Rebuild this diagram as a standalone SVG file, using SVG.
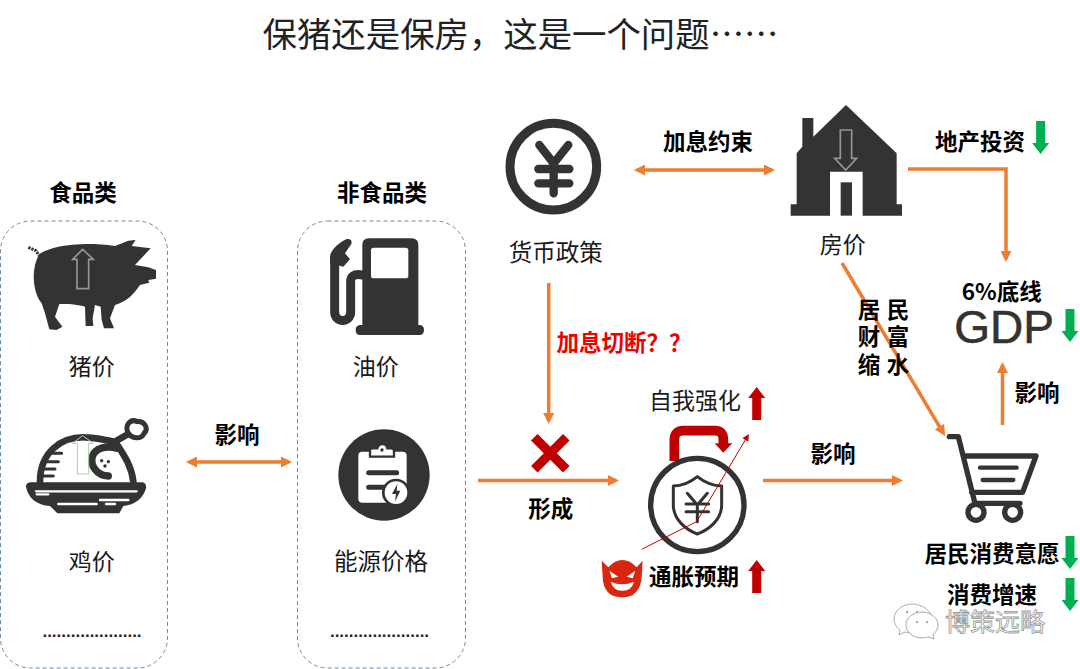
<svg xmlns="http://www.w3.org/2000/svg" width="1080" height="669" viewBox="0 0 1080 669">
<style>
text{font-family:"Noto Sans CJK SC","Liberation Sans",sans-serif;font-size:23px;fill:#1a1a1a;text-anchor:middle}
.b{font-weight:700;font-size:22.500px;fill:#000}
.r{font-weight:700;font-size:22.500px;fill:#f00000}
.title{font-size:34.400px;fill:#222}
.dots{font-family:"Liberation Sans",sans-serif;font-size:17px;font-weight:700;fill:#222}
.gdp{font-family:"Liberation Sans",sans-serif;font-size:46px;fill:#333;stroke:#333;stroke-width:.6}
.wm{font-size:25px;fill:#fff;stroke:#999;stroke-width:.8}
.box{fill:none;stroke:#6f8aa5;stroke-width:1;stroke-dasharray:4 3}
.d{fill:#333}
.s{fill:none;stroke:#333;stroke-linecap:round;stroke-linejoin:round}
.w{fill:none;stroke:#fff;stroke-linecap:round}
.c{fill:none;stroke:#ed7d31;stroke-width:3.500}
.green{fill:#00b050}
.red{fill:#c00000}
.hollow{fill:none;stroke:#8d9c8d;stroke-width:5}
</style>
<defs>
<marker id="ah" viewBox="0 0 11 11" refX="8" refY="5.500" markerWidth="11" markerHeight="11" markerUnits="userSpaceOnUse" orient="auto-start-reverse"><path d="M0,0L11,5.500L0,11z" fill="#ed7d31"/></marker>
<marker id="rh" viewBox="0 0 6 6" refX="5" refY="3" markerWidth="21" markerHeight="21" markerUnits="userSpaceOnUse" orient="auto"><path d="M0,0L6,3L0,6z" fill="#c00000"/></marker>
<path id="up" d="M0,0L8.500,11L4.500,11L4.500,33L-4.500,33L-4.500,11L-8.500,11Z"/>
<path id="down" d="M-4.500,0L4.500,0L4.500,22L8.500,22L0,33L-8.500,22L-4.500,22Z"/>
</defs>
<rect width="1080" height="669" fill="#fff"/>
<text class="title" x="520.500" y="47">保猪还是保房，这是一个问题……</text>

<g id="food-box">
<rect class="box" x="0.500" y="221" width="167" height="447" rx="30"/>
<text class="b" x="83" y="201">食品类</text>
</g>
<g id="pig" transform="translate(0,170) scale(.3333)">
<path class="d" d="M118,252C160,225 250,215 345,228L385,212L407,210L395,228L452,235L405,285L445,292L468,300L468,326L445,330L448,338L420,345C400,375 380,395 345,405L330,445L342,475L312,475L305,450L302,410L285,405L278,445L280,468L257,468L255,410C230,402 200,402 178,402L165,440L187,470L170,480L148,478L135,430L125,400C100,370 90,300 118,252Z"/>
<path d="M85,232L108,242L118,258" fill="none" stroke="#333" stroke-width="9" stroke-dasharray="7 3"/>
<path class="hollow" d="M248,238L280,268L266,268L266,356L231,356L231,268L218,268Z"/>
</g>
<text id="pig-label" x="91.700" y="375">猪价</text>
<g id="chicken" transform="translate(0,170) scale(.3333)">
<path class="s" style="stroke-width:20" d="M120,935C120,850 180,800 255,802C290,802 320,812 345,815L388,790M400,935C395,890 375,860 352,825"/>
<path d="M385,790C372,765 392,745 412,755C432,752 448,775 432,790C425,808 398,808 385,790Z" fill="#fff" stroke="#333" stroke-width="15"/>
<path class="s" style="stroke-width:22" d="M325,918C290,918 270,885 277,860C285,835 320,825 350,835"/>
<path class="s" style="stroke-width:9" d="M150,850H185M140,875H175M135,897H165M130,918H160"/>
<circle class="d" cx="305" cy="872" r="5"/><circle class="d" cx="325" cy="875" r="5"/><circle class="d" cx="315" cy="888" r="5"/>
<path class="d" d="M78,950C78,940 85,937 95,937L425,937C435,937 440,945 438,955C430,985 405,1005 370,1008L358,1030L172,1030L150,1008C110,1005 85,985 78,950Z"/>
<path class="w" style="stroke-width:7" d="M108,964H410M110,973H145M300,990H385M175,1002H290M318,1002H345"/>
<path fill="none" stroke="#a9cfa9" stroke-width="3" d="M248,797L280,820L266,820L266,912L232,912L232,820L218,820Z"/>
</g>
<text id="chicken-label" x="91.700" y="570">鸡价</text>
<text class="dots" x="92" y="637">.....................</text>

<g id="nonfood-box">
<rect class="box" x="297.500" y="221" width="168" height="447" rx="30"/>
<text class="b" x="382" y="201">非食品类</text>
</g>
<g id="fuel" transform="translate(290,170) scale(.3333)">
<path class="d" d="M217,225Q217,205 237,205H365Q385,205 385,225V465H390Q402,467 402,480Q402,495 388,495H210Q197,495 197,480Q197,467 210,465H217Z"/>
<rect x="243" y="233" width="112" height="92" rx="8" fill="#fff"/>
<path class="s" style="stroke-width:27" d="M217,315C190,310 182,320 182,335V425C182,460 134,460 134,425V275"/>
<path class="d" d="M120,280V262C120,240 150,215 170,207Q188,205 184,222L165,250L180,268L160,290Z"/>
</g>
<text id="fuel-label" x="375.700" y="375">油价</text>
<g id="energy" transform="translate(290,170) scale(.3333)">
<circle class="d" cx="282" cy="915" r="137"/>
<rect x="205" y="845" width="145" height="153" rx="12" fill="#fff"/>
<path d="M240,860V838Q240,835 250,835H262Q265,822 277,822Q290,822 292,835H303Q312,835 312,842V860Z" fill="#fff" stroke="#333" stroke-width="7"/>
<circle class="d" cx="276" cy="840" r="5"/>
<path class="s" style="stroke-width:15" d="M236,908H320M236,952H290"/>
<circle cx="318" cy="968" r="38" fill="#fff" stroke="#333" stroke-width="8"/>
<path class="d" d="M322,942L306,972L318,972L315,995L331,962L320,962Z"/>
</g>
<text id="energy-label" x="381" y="570" style="font-size:23.500px">能源价格</text>
<text class="dots" x="379.500" y="637">.....................</text>

<g id="connectors">
<path class="c" marker-start="url(#ah)" marker-end="url(#ah)" d="M189,462H289"/>
<path class="c" marker-start="url(#ah)" marker-end="url(#ah)" d="M637,170H772"/>
<path class="c" marker-end="url(#ah)" d="M548.700,283V421"/>
<path class="c" marker-end="url(#ah)" d="M478,480.500H616"/>
<path class="c" marker-end="url(#ah)" d="M763,480.500H900"/>
<path class="c" marker-end="url(#ah)" d="M842,263L943.500,433.400"/>
<path class="c" marker-end="url(#ah)" d="M908,169H1006V259"/>
<path class="c" marker-end="url(#ah)" d="M1002.500,425V365"/>
</g>
<text id="influence-1" class="b" x="237" y="443">影响</text>
<text id="hike-limit" class="b" x="708" y="150">加息约束</text>
<text id="hike-cut" class="r" x="624" y="351">加息切断？？</text>
<text id="form" class="b" x="550.700" y="517">形成</text>
<text id="influence-2" class="b" x="833" y="462">影响</text>
<text id="influence-3" class="b" x="1037" y="401">影响</text>

<g id="cross" transform="translate(290,170) scale(.3333)">
<path fill="none" stroke="#c00000" stroke-width="28" d="M733,802L829,898M829,802L733,898"/>
</g>

<g id="monetary" transform="translate(480,90) scale(.3333)">
<circle class="s" style="stroke-width:27" cx="220" cy="230" r="130"/>
<path class="s" style="stroke-width:25" d="M178,165L221,220L265,165M175,237H268M175,280H268M221,220V310"/>
</g>
<text id="monetary-label" x="555.700" y="261" style="font-size:23.500px">货币政策</text>

<g id="house" transform="translate(780,90) scale(.3333)">
<path class="d" d="M198,45L350,190V343H366V377H248V245H150V377H32V343H50V190L67,170V84H100V140Z"/>
<rect class="d" x="182" y="277" width="34" height="100"/>
<path class="hollow" d="M181,120H215V205H230L197,240L164,205H181Z"/>
</g>
<text id="house-label" x="842.700" y="253">房价</text>
<g id="invest">
<text class="b" x="980" y="150">地产投资</text>
<use href="#down" class="green" x="1040.600" y="121"/>
</g>
<g id="gdp">
<text class="b" x="1001.700" y="300">6%底线</text>
<text class="gdp" x="1004" y="343">GDP</text>
<use href="#down" class="green" x="1070" y="309"/>
</g>
<g id="wealth-shrink">
<text class="b" x="869" y="318">居</text><text class="b" x="898" y="318">民</text>
<text class="b" x="869" y="345">财</text><text class="b" x="898" y="345">富</text>
<text class="b" x="869" y="373">缩</text><text class="b" x="898" y="373">水</text>
</g>

<g id="self-reinforce">
<text x="695" y="409">自我强化</text>
<use href="#up" class="red" x="756.700" y="387"/>
</g>
<g id="lock" transform="translate(590,380) scale(.3333)">
<path fill="none" stroke="#c00000" stroke-width="29" d="M253,243V180Q253,152 280,152H375Q400,152 400,178V192"/>
<path class="red" d="M374,190H427L400,218Z"/>
<circle class="s" style="stroke-width:16" cx="322" cy="375" r="140"/>
<path class="s" style="stroke-width:9" d="M322,290C295,312 270,318 250,318V375C250,420 290,450 322,462C355,450 395,420 395,375V318C375,318 350,312 322,290Z"/>
<path class="s" style="stroke-width:9" d="M292,340L322,375L352,340M288,372H356M288,395H356M322,375V425"/>
<path fill="none" stroke="#c00000" stroke-width="3" marker-end="url(#rh)" d="M155,508L320,425L475,165"/>
</g>
<g id="inflation">
<g transform="translate(590,380) scale(.3333)">
<path d="M35,542L55,562Q75,540 97,540Q120,540 140,562L158,542L155,590Q150,652 97,652Q40,652 38,590Z" fill="#d9260f"/>
<path d="M58,572L85,590L66,595ZM136,572L110,590L128,595Z" fill="#fff"/>
<path d="M62,605Q97,620 132,605Q125,632 97,632Q70,632 62,605Z" fill="#fff"/>
</g>
<text class="b" x="694" y="585">通胀预期</text>
<use href="#up" class="red" x="756.700" y="560"/>
</g>

<g id="cart" transform="translate(830,370) scale(.3333)">
<path class="s" style="stroke-width:16" d="M358,200H385L435,400H570M402,258H618L578,367H425"/>
<path class="s" style="stroke-width:13" d="M450,293H560M458,330H550"/>
<circle class="s" style="stroke-width:16" cx="438" cy="427" r="24"/>
<circle class="s" style="stroke-width:16" cx="548" cy="427" r="24"/>
</g>
<g id="consumption">
<text class="b" x="992" y="562">居民消费意愿</text>
<use href="#down" class="green" x="1070" y="536"/>
<text class="b" x="992" y="603">消费增速</text>
<use href="#down" class="green" x="1070" y="578"/>
</g>
<g id="watermark">
<g fill="#fff" stroke="#aaa" stroke-width="1">
<path d="M912,604C902,604 894,611 894,619C894,624 897,628 900,630L899,635L905,632C908,633 912,633 915,633C925,633 932,627 932,619C932,611 922,604 912,604Z"/>
<path d="M922,612C913,612 906,618 906,625C906,632 913,638 922,638C925,638 927,637 929,637L934,639L933,635C936,632 938,629 938,625C938,618 931,612 922,612Z"/>
</g>
<circle cx="907" cy="612" r="1.200" fill="#aaa"/><circle cx="917" cy="612" r="1.200" fill="#aaa"/>
<circle cx="917" cy="622" r="1.200" fill="#aaa"/><circle cx="927" cy="622" r="1.200" fill="#aaa"/>
<text class="wm" x="995" y="631">博策远略</text>
</g>
</svg>
